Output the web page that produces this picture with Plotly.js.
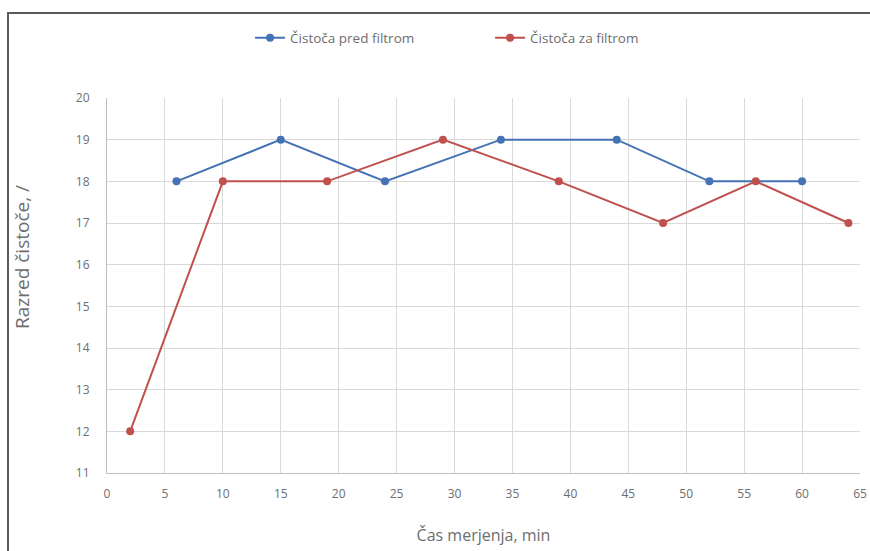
<!DOCTYPE html>
<html>
<head>
<meta charset="utf-8">
<script src="https://cdn.plot.ly/plotly-3.0.1.min.js"></script>
<style>
html,body{margin:0;padding:0;background:#fff;}
#wrap{position:relative;width:870px;height:551px;overflow:hidden;}
#chart{width:870px;height:551px;}
#frame{position:absolute;left:7px;top:12px;width:900px;height:600px;border-left:2px solid #5a5a5a;border-top:2px solid #5a5a5a;pointer-events:none;}
</style>
</head>
<body>
<div id="wrap"><div id="chart"></div><div id="frame"></div></div>
<script>
const predX = [6, 15, 24, 34, 44, 52, 60];
const predY = [18, 19, 18, 19, 19, 18, 18];
const zaX = [2, 10, 19, 29, 39, 48, 56, 64];
const zaY = [12, 18, 18, 19, 18, 17, 18, 17];
const seriesNames = ["Čistoča pred filtrom", "Čistoča za filtrom"];
const xTicks = [0,5,10,15,20,25,30,35,40,45,50,55,60,65];
const yTicks = [11,12,13,14,15,16,17,18,19,20];
const xTitle = "Čas merjenja, min";
const yTitle = "Razred čistoče, /";

const traces = [
  {x: predX, y: predY, name: seriesNames[0], type: 'scatter', mode: 'lines+markers',
   line: {color: '#4472b4', width: 2}, marker: {color: '#4472b4', size: 8, symbol: 'circle'}},
  {x: zaX, y: zaY, name: seriesNames[1], type: 'scatter', mode: 'lines+markers',
   line: {color: '#c0504d', width: 2}, marker: {color: '#c0504d', size: 8, symbol: 'circle'}}
];

const font = '"Open Sans", sans-serif';
const txt = '#6e6e6e';
const layout = {
  width: 870, height: 551,
  margin: {l: 107, r: 10, t: 98, b: 78},
  paper_bgcolor: '#ffffff', plot_bgcolor: '#ffffff',
  font: {family: font, color: txt, size: 12},
  showlegend: true,
  legend: {orientation: 'h', x: 0.19, xanchor: 'left', y: 1.16, yanchor: 'middle',
           entrywidth: 195, entrywidthmode: 'pixels',
           font: {family: font, size: 13.5, color: txt}},
  xaxis: {range: [0, 65], tickvals: xTicks, ticktext: xTicks.map(String),
          showgrid: true, gridcolor: '#d9d9d9', gridwidth: 1,
          showline: true, linecolor: '#bfbfbf', linewidth: 1, zeroline: false,
          ticks: '', tickfont: {size: 12, color: txt}, ticklabelstandoff: 10,
          title: {text: xTitle, font: {size: 16, color: txt}, standoff: 28}},
  yaxis: {range: [11, 20], tickvals: yTicks, ticktext: yTicks.map(String),
          showgrid: true, gridcolor: '#d9d9d9', gridwidth: 1,
          showline: true, linecolor: '#bfbfbf', linewidth: 1, zeroline: false,
          ticks: '', tickfont: {size: 12, color: txt}, ticklabelstandoff: 14},
  annotations: [{text: yTitle, textangle: -90, xref: 'paper', yref: 'paper',
                 x: -0.113, y: 0.576, xanchor: 'center', yanchor: 'middle', showarrow: false,
                 font: {family: font, size: 19, color: txt}}]
};

Plotly.newPlot('chart', traces, layout, {displayModeBar: false, staticPlot: true});
</script>
</body>
</html>
